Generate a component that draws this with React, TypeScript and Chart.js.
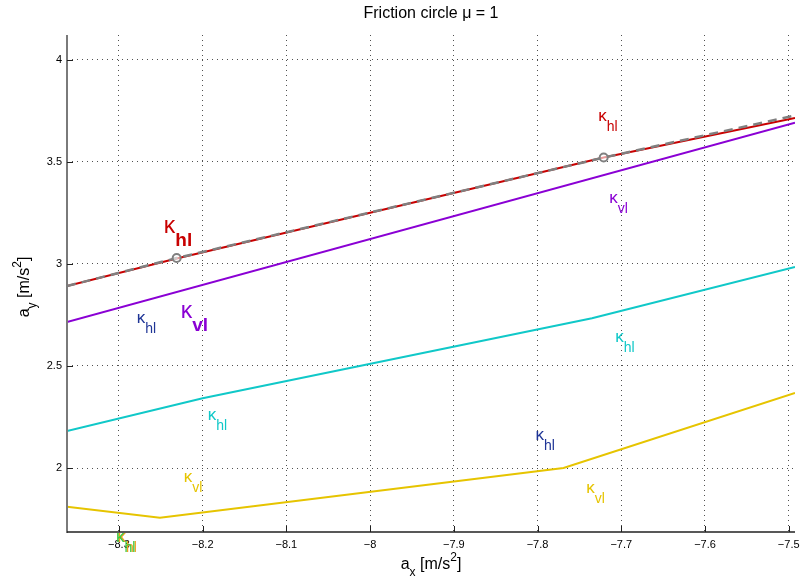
import React, { useEffect, useRef } from 'react';
import { Chart, registerables } from 'chart.js';

Chart.register(...registerables);

const TITLE = 'Friction circle \u03bc = 1';
const xTicks = [-8.3, -8.2, -8.1, -8, -7.9, -7.8, -7.7, -7.6, -7.5];
const yTicks = [2, 2.5, 3, 3.5, 4];
const xRange = [-8.362, -7.4925];
const yRange = [1.687, 4.12];

const redX = [-8.362, -8.231, -7.721, -7.4925];
const redY = [2.891, 3.026, 3.52, 3.714];
const circleX = [-8.362, -8.231, -7.721, -7.4925];
const circleY = [2.891, 3.028, 3.52, 3.726];
const markerX = [-8.231, -7.721];
const markerY = [3.028, 3.52];
const purpleX = [-8.362, -7.4925];
const purpleY = [2.715, 3.691];
const cyanX = [-8.362, -8.2, -7.735, -7.4925];
const cyanY = [2.181, 2.342, 2.733, 2.984];
const yellowX = [-8.362, -8.251, -7.769, -7.4925];
const yellowY = [1.811, 1.757, 2.0, 2.368];

// annotation labels
const labelX = [-8.2464, -7.7274, -7.7143, -8.2262, -8.2786, -7.8024, -8.194, -7.7071, -8.2226, -7.7417, -8.3016, -8.3036];
const labelY = [3.15, 3.70, 3.2995, 2.7345, 2.71, 2.1367, 2.2345, 2.616, 1.933, 1.879, 1.6396, 1.6396];
const labelSub = ['hl', 'hl', 'vl', 'vl', 'hl', 'hl', 'hl', 'hl', 'vl', 'vl', 'hl', 'hl'];
const labelColor = ['#c80000', '#c80000', '#8a00d4', '#8a00d4', '#1f3596', '#1f3596', '#10c8c8', '#10c8c8', '#e6c400', '#e6c400', '#f0a020', '#3cc83c'];
const labelBig = [true, false, false, true, false, false, false, false, false, false, false, false];

const FONT = '"Liberation Sans", Arial, Helvetica, sans-serif';

const pts = (xs: number[], ys: number[]) => xs.map((x, i) => ({ x, y: ys[i] }));
const fmt = (v: number) => {
  const s = String(Math.round(v * 10) / 10);
  return s.replace('-', '\u2212');
};

const overlay = {
  id: 'overlay',
  afterDraw(chart: any) {
    const ctx = chart.ctx as CanvasRenderingContext2D;
    const { left, right, top, bottom } = chart.chartArea;
    const xs = chart.scales.x;
    const ys = chart.scales.y;
    ctx.save();
    ctx.strokeStyle = '#7a7a7a';
    ctx.lineWidth = 2;
    ctx.beginPath();
    ctx.moveTo(left, top);
    ctx.lineTo(left, bottom + 1);
    ctx.stroke();
    ctx.strokeStyle = '#202020';
    ctx.lineWidth = 1.5;
    ctx.beginPath();
    ctx.moveTo(left, bottom);
    ctx.lineTo(right, bottom);
    ctx.stroke();
    ctx.lineWidth = 1;
    ctx.strokeStyle = '#202020';
    ctx.beginPath();
    xTicks.forEach((v) => {
      const px = Math.round(xs.getPixelForValue(v)) + 0.5;
      ctx.moveTo(px, bottom);
      ctx.lineTo(px, bottom - 6);
    });
    yTicks.forEach((v) => {
      const py = Math.round(ys.getPixelForValue(v)) + 0.5;
      ctx.moveTo(left, py);
      ctx.lineTo(left + 6, py);
    });
    ctx.stroke();

    ctx.fillStyle = '#000';
    ctx.font = `16px ${FONT}`;
    ctx.textAlign = 'center';
    ctx.textBaseline = 'alphabetic';
    ctx.fillText(TITLE, (left + right) / 2, 18);

    const drawAxisLabel = (sub: string) => {
      const parts: [string, number, number][] = [
        ['a', 16, 0],
        [sub, 12, 7],
        [' [m/s', 16, 0],
        ['2', 12, -8],
        [']', 16, 0],
      ];
      let w = 0;
      parts.forEach(([t, s]) => {
        ctx.font = `${s}px ${FONT}`;
        w += ctx.measureText(t).width;
      });
      let x = -w / 2;
      ctx.textAlign = 'left';
      parts.forEach(([t, s, dy]) => {
        ctx.font = `${s}px ${FONT}`;
        ctx.fillText(t, x, dy);
        x += ctx.measureText(t).width;
      });
    };
    ctx.save();
    ctx.translate((left + right) / 2, 569);
    drawAxisLabel('x');
    ctx.restore();
    ctx.save();
    ctx.translate(29, 287);
    ctx.rotate(-Math.PI / 2);
    drawAxisLabel('y');
    ctx.restore();

    ctx.textAlign = 'left';
    labelX.forEach((lx, i) => {
      const px = xs.getPixelForValue(lx);
      const py = ys.getPixelForValue(labelY[i]);
      const big = labelBig[i];
      ctx.fillStyle = labelColor[i];
      ctx.font = `${big ? 23 : 17}px ${FONT}`;
      ctx.fillText('\u03ba', px, py);
      const kw = ctx.measureText('\u03ba').width;
      ctx.font = `${big ? 'bold 19px' : '14px'} ${FONT}`;
      ctx.fillText(labelSub[i], px + kw, py + (big ? 13 : 10));
    });
    ctx.restore();
  },
};

export default function App() {
  const ref = useRef<HTMLCanvasElement | null>(null);
  useEffect(() => {
    document.body.style.margin = '0';
    const canvas = ref.current;
    if (!canvas) return;
    const chart = new Chart(canvas, {
      type: 'scatter',
      data: {
        datasets: [
          { data: pts(markerX, markerY), showLine: false, borderColor: '#808080', backgroundColor: 'rgba(255,255,255,0.6)', borderWidth: 2, pointRadius: 4 },
          { data: pts(circleX, circleY), showLine: true, borderColor: '#808080', borderWidth: 2.5, borderDash: [9, 6], pointRadius: 0 },
          { data: pts(redX, redY), showLine: true, borderColor: '#c80000', borderWidth: 2, pointRadius: 0 },
          { data: pts(purpleX, purpleY), showLine: true, borderColor: '#8a00d4', borderWidth: 2, pointRadius: 0 },
          { data: pts(cyanX, cyanY), showLine: true, borderColor: '#10c8c8', borderWidth: 2, pointRadius: 0 },
          { data: pts(yellowX, yellowY), showLine: true, borderColor: '#e6c400', borderWidth: 2, pointRadius: 0 },
        ],
      },
      options: {
        responsive: false,
        animation: false,
        events: [],
        layout: { padding: { top: 35, right: 4, left: 0, bottom: 0 } },
        plugins: { legend: { display: false }, tooltip: { enabled: false }, title: { display: false } },
        scales: {
          x: {
            type: 'linear',
            min: xRange[0],
            max: xRange[1],
            afterBuildTicks: (s: any) => { s.ticks = xTicks.map((v) => ({ value: v })); },
            afterFit: (s: any) => { s.height = 53; s.paddingLeft = 0; s.paddingRight = 0; },
            grid: { color: '#505050', lineWidth: 1, drawTicks: false },
            border: { display: false, dash: [1, 4] },
            ticks: {
              color: '#000',
              padding: 6,
              maxRotation: 0,
              font: { family: FONT, size: 11 },
              callback: (v: any) => fmt(Number(v)),
            },
          },
          y: {
            type: 'linear',
            min: yRange[0],
            max: yRange[1],
            afterBuildTicks: (s: any) => { s.ticks = yTicks.map((v) => ({ value: v })); },
            afterFit: (s: any) => { s.width = 67; s.paddingTop = 0; s.paddingBottom = 0; },
            grid: { color: '#505050', lineWidth: 1, drawTicks: false },
            border: { display: false, dash: [1, 4] },
            ticks: {
              color: '#000',
              padding: 5,
              font: { family: FONT, size: 11 },
              callback: (v: any) => fmt(Number(v)),
            },
          },
        },
      },
      plugins: [overlay],
    } as any);
    return () => chart.destroy();
  }, []);
  return (
    <div style={{ position: 'absolute', left: 0, top: 0, width: 801, height: 585, background: '#fff' }}>
      <canvas ref={ref} width={801} height={585} />
    </div>
  );
}
